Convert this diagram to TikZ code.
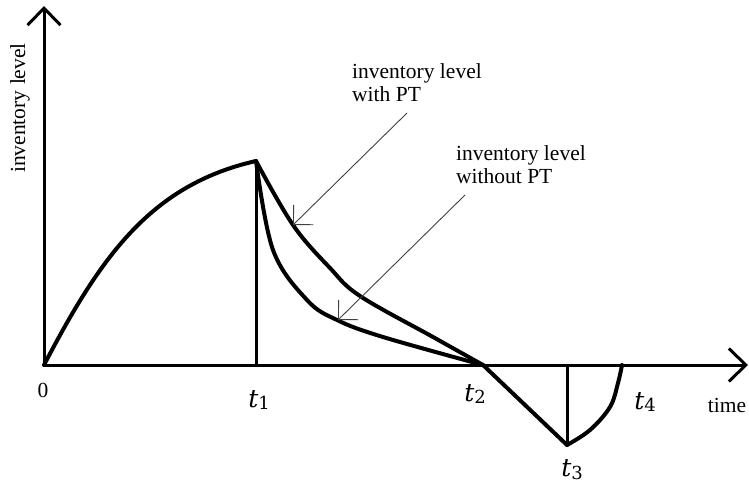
\documentclass[tikz,border=0pt]{standalone}
\usepackage{fontspec}
\setmainfont{Liberation Serif}
\newfontfamily\tfont{DejaVu Serif}
\usetikzlibrary{arrows.meta}
\newcommand{\tsub}[1]{{\fontsize{25}{28}\selectfont\tfont\itshape t}\raisebox{-0.28em}{\fontsize{18}{20}\selectfont\tfont #1}}
\begin{document}
\begin{tikzpicture}[x=1pt,y=-1pt,
  axis/.style={line width=3pt,-{Straight Barb[length=17pt,width=33pt,line width=3pt]}},
  curve/.style={line width=4pt,line join=round,line cap=round},
  tick/.style={line width=3pt},
  pointer/.style={draw=black!75,line width=0.9pt,-{Straight Barb[length=14pt,width=28pt,line width=0.9pt]}},
  lbl/.style={font=\fontsize{21.5}{23}\selectfont,align=left,inner sep=0pt},
  tl/.style={inner sep=0pt}]
\useasboundingbox (0,0) rectangle (749,486);
\coordinate (O) at (44,365);
\coordinate (P) at (256,161);
\coordinate (P0) at (256,365);
\coordinate (T2) at (483,365);
\coordinate (T3) at (567,445);
\coordinate (T30) at (567,365);
\coordinate (T4) at (622,365);
\coordinate (Ytop) at (44,6);
\coordinate (Xend) at (748,365);
% axes
\draw[axis] (O) -- (Ytop);
\draw[axis] (O) -- (Xend);
% curves
\draw[curve] (O) .. controls (100,258) and (150,185) .. (P);
\draw[tick] (P) -- (P0);
\draw[curve] plot[smooth,tension=0.6] coordinates {(256,161) (293,225) (330,268) (360,296) (433,337) (483,365)};
\draw[curve] plot[smooth,tension=0.6] coordinates {(256,161) (273,250) (307,300) (337,320) (383,337) (483,365)};
\draw[curve] (T2) -- (T3);
\draw[tick] (T3) -- (T30);
\draw[curve] plot[smooth,tension=0.6] coordinates {(567,445) (590,430) (610,407) (618,383) (622,365)};
% labels
\node[lbl,rotate=90] (ylab) at (20,108) {inventory level};
\node[lbl] (xlab) at (727,405) {time};
\node[lbl] (zero) at (43,390) {0};
\node[tl] (t1) at (259,400) {\tsub{1}};
\node[tl] (t2) at (475,394) {\tsub{2}};
\node[tl] (t3) at (572,470) {\tsub{3}};
\node[tl] (t4) at (645,402) {\tsub{4}};
\node[lbl,anchor=north west] (withPT) at (352,63) {inventory level\\with PT};
\node[lbl,anchor=north west] (withoutPT) at (456,145) {inventory level\\without PT};
\coordinate (a1s) at (407,113);
\coordinate (a1e) at (293,225);
\coordinate (a2s) at (465,195);
\coordinate (a2e) at (338,320);
\draw[pointer] (a1s) -- (a1e);
\draw[pointer] (a2s) -- (a2e);
\end{tikzpicture}
\end{document}
